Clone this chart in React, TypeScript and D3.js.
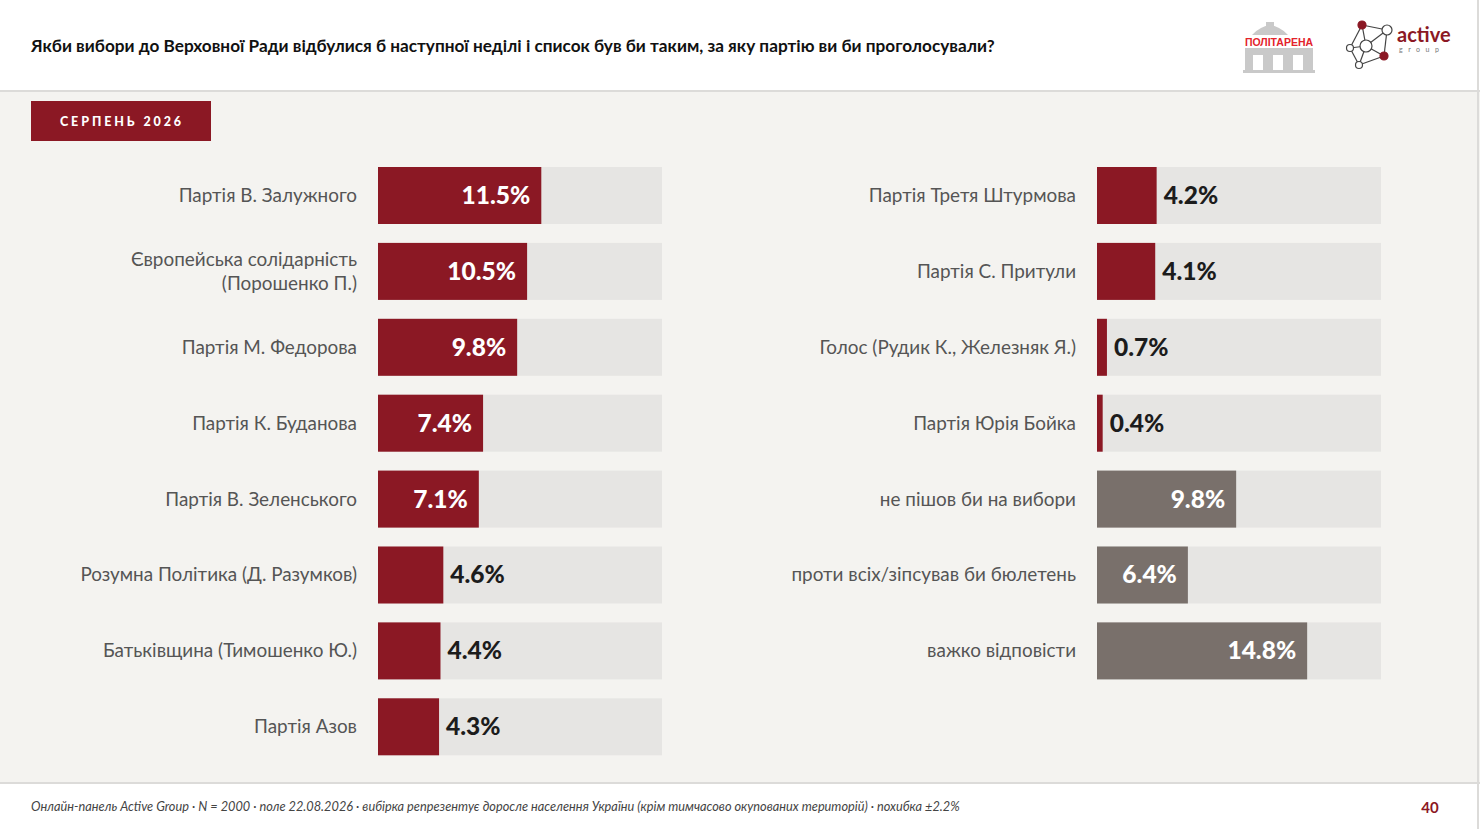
import { useRef, useEffect } from "react";
import * as d3 from "d3";

// left column: parties
const leftParties = [
  "Партія В. Залужного",
  "Європейська солідарність|(Порошенко П.)",
  "Партія М. Федорова",
  "Партія К. Буданова",
  "Партія В. Зеленського",
  "Розумна Політика (Д. Разумков)",
  "Батьківщина (Тимошенко Ю.)",
  "Партія Азов",
];
const leftValues = [11.5, 10.5, 9.8, 7.4, 7.1, 4.6, 4.4, 4.3];

// right column: parties + other answers
const rightParties = [
  "Партія Третя Штурмова",
  "Партія С. Притули",
  "Голос (Рудик К., Железняк Я.)",
  "Партія Юрія Бойка",
  "не пішов би на вибори",
  "проти всіх/зіпсував би бюлетень",
  "важко відповісти",
];
const rightValues = [4.2, 4.1, 0.7, 0.4, 9.8, 6.4, 14.8];
const rightKinds = ["party", "party", "party", "party", "other", "other", "other"];

const title =
  "Якби вибори до Верховної Ради відбулися б наступної неділі і список був би таким, за яку партію ви би проголосували?";
const badge = "СЕРПЕНЬ 2026";
const footnote =
  "Онлайн-панель Active Group · N = 2000 · поле 22.08.2026 · вибірка репрезентує доросле населення України (крім тимчасово окупованих територій) · похибка ±2.2%";
const pageNo = "40";

const RED = "#8b1824";
const GRAY = "#79706b";
const TRACK = "#e6e5e3";
const BG = "#f4f3f0";
const FONT = "Lato, 'Open Sans', sans-serif";

const W = 1480;
const H = 829;

const App = () => {
  const ref = useRef<SVGSVGElement>(null);

  useEffect(() => {
    if (!ref.current) return;
    const svg = d3.select(ref.current);
    svg.selectAll("*").remove();

    // page background
    svg.append("rect").attr("width", W).attr("height", H).attr("fill", "#fff");
    svg.append("rect").attr("x", 0).attr("y", 92).attr("width", W).attr("height", 690).attr("fill", BG);
    svg.append("rect").attr("x", 0).attr("y", 90).attr("width", W).attr("height", 2).attr("fill", "#dcdbd9");
    svg.append("rect").attr("x", 0).attr("y", 782).attr("width", W).attr("height", 2).attr("fill", "#dcdbd9");
    svg.append("rect").attr("x", 1477).attr("y", 0).attr("width", 2).attr("height", H).attr("fill", "#dcdbd9");

    // title
    svg
      .append("text")
      .attr("x", 31)
      .attr("y", 52)
      .attr("font-family", FONT)
      .attr("font-size", 17.2)
      .attr("font-weight", 700)
      .attr("fill", "#111")
      .text(title);

    // logos
    const pol = svg.append("g").attr("transform", "translate(1243,20)");
    pol.append("path").attr("d", "M9,15 Q27,-4 45,15 Z").attr("fill", "#c9c9c9");
    pol.append("rect").attr("x", 23).attr("y", 2).attr("width", 8).attr("height", 4).attr("fill", "#c9c9c9");
    pol.append("rect").attr("x", 2).attr("y", 28).attr("width", 68).attr("height", 24).attr("fill", "#c9c9c9");
    [10, 30, 50].forEach((x) =>
      pol.append("rect").attr("x", x).attr("y", 35).attr("width", 10).attr("height", 17).attr("fill", "#fff")
    );
    pol.append("rect").attr("x", 0).attr("y", 50).attr("width", 72).attr("height", 3).attr("fill", "#c9c9c9");
    pol
      .append("text")
      .attr("x", 36)
      .attr("y", 26)
      .attr("text-anchor", "middle")
      .attr("font-family", "'Liberation Sans', Arial, sans-serif")
      .attr("font-size", 10.5)
      .attr("font-weight", 700)
      .attr("fill", "#e3232b")
      .text("ПОЛІТАРЕНА");

    const ag = svg.append("g");
    const nodes: [number, number, number, string][] = [
      [1362, 25, 4, RED],
      [1387, 30, 5, "#fff"],
      [1366, 46, 6, "#fff"],
      [1350, 48, 3.5, "#fff"],
      [1359, 65, 3.5, "#fff"],
      [1384, 56, 4, RED],
    ];
    const links = [
      [0, 1], [0, 3], [0, 2], [1, 2], [1, 5], [2, 5], [3, 4], [4, 5], [2, 4], [3, 2],
    ];
    links.forEach(([a, b]) =>
      ag
        .append("line")
        .attr("x1", nodes[a][0]).attr("y1", nodes[a][1])
        .attr("x2", nodes[b][0]).attr("y2", nodes[b][1])
        .attr("stroke", "#444").attr("stroke-width", 1.2)
    );
    nodes.forEach(([x, y, r, c]) =>
      ag.append("circle").attr("cx", x).attr("cy", y).attr("r", r).attr("fill", c)
        .attr("stroke", c === RED ? RED : "#444").attr("stroke-width", 1.2)
    );
    ag.append("text").attr("x", 1397).attr("y", 42).attr("font-family", FONT)
      .attr("font-size", 20).attr("font-weight", 700).attr("fill", RED).text("active");
    ag.append("text").attr("x", 1399).attr("y", 52).attr("font-family", FONT)
      .attr("font-size", 7).attr("letter-spacing", 5.5).attr("fill", "#777").text("group");

    // badge
    svg.append("rect").attr("x", 31).attr("y", 101).attr("width", 180).attr("height", 40).attr("fill", RED);
    svg
      .append("text")
      .attr("x", 122)
      .attr("y", 126)
      .attr("text-anchor", "middle")
      .attr("font-family", FONT)
      .attr("font-size", 12.5)
      .attr("font-weight", 900)
      .attr("letter-spacing", 2.9)
      .attr("fill", "#fff")
      .text(badge);

    // scales
    const barW = 284;
    const x = d3.scaleLinear().domain([0, 20]).range([0, barW]);
    const y = d3
      .scaleBand<number>()
      .domain(d3.range(8))
      .range([167, 755.3])
      .paddingInner(0.249)
      .paddingOuter(0);

    const drawColumn = (
      x0: number,
      labels: string[],
      values: number[],
      kinds: string[]
    ) => {
      const g = svg.append("g");
      const rows = g
        .selectAll("g.row")
        .data(values.map((v, i) => ({ v, label: labels[i], kind: kinds[i], i })))
        .join("g")
        .attr("class", "row")
        .attr("transform", (d) => `translate(0,${y(d.i)})`);

      const bh = y.bandwidth();

      rows.append("rect").attr("x", x0).attr("width", barW).attr("height", bh).attr("fill", TRACK);
      rows
        .append("rect")
        .attr("x", x0)
        .attr("width", (d) => x(d.v))
        .attr("height", bh)
        .attr("fill", (d) => (d.kind === "other" ? GRAY : RED));

      // category labels
      rows.each(function (d) {
        const lines = d.label.split("|");
        const t = d3
          .select(this)
          .append("text")
          .attr("x", x0 - 21)
          .attr("text-anchor", "end")
          .attr("font-family", FONT)
          .attr("font-size", 18.9)
          .attr("fill", "#555");
        lines.forEach((ln, k) =>
          t
            .append("tspan")
            .attr("x", x0 - 21)
            .attr("y", bh / 2 + 6.5 + (k - (lines.length - 1) / 2) * 24)
            .text(ln)
        );
      });

      // value labels
      rows
        .append("text")
        .attr("x", (d) => (d.v >= 6 ? x0 + x(d.v) - 11 : x0 + x(d.v) + 7))
        .attr("y", bh / 2 + 8.5)
        .attr("text-anchor", (d) => (d.v >= 6 ? "end" : "start"))
        .attr("font-family", FONT)
        .attr("font-size", 24.5)
        .attr("font-weight", 900)
        .attr("fill", (d) => (d.v >= 6 ? "#fff" : "#1c1c1c"))
        .text((d) => `${d.v.toFixed(1)}%`);
    };

    drawColumn(378, leftParties, leftValues, leftValues.map(() => "party"));
    drawColumn(1097, rightParties, rightValues, rightKinds);

    // footer
    svg
      .append("text")
      .attr("x", 31)
      .attr("y", 811)
      .attr("font-family", FONT)
      .attr("font-size", 12.75)
      .attr("font-style", "italic")
      .attr("fill", "#444")
      .text(footnote);
    svg
      .append("text")
      .attr("x", 1430)
      .attr("y", 813)
      .attr("text-anchor", "middle")
      .attr("font-family", FONT)
      .attr("font-size", 15)
      .attr("font-weight", 700)
      .attr("fill", RED)
      .text(pageNo);
  }, []);

  return (
    <svg
      ref={ref}
      width={W}
      height={H}
      style={{ position: "absolute", left: 0, top: 0 }}
    ></svg>
  );
};

export default App;
